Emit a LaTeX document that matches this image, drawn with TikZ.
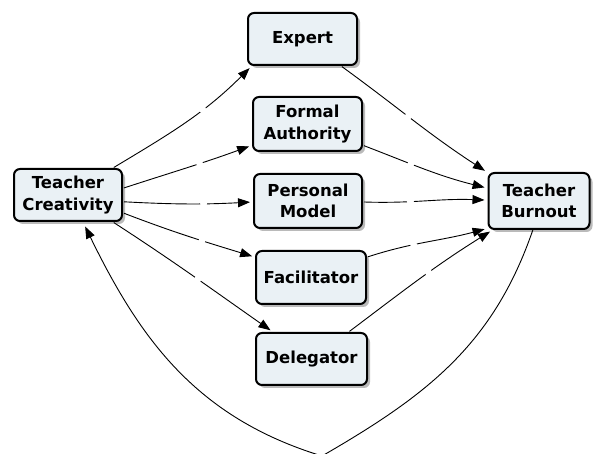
\documentclass[tikz,border=0pt]{standalone}
\usepackage{fontspec}
\setmainfont{DejaVu Sans}
\usetikzlibrary{arrows.meta,shadows}
\definecolor{boxfill}{RGB}{234,241,245}
\begin{document}
\begin{tikzpicture}[x=1pt,y=1pt,
  role/.style={draw=black, line width=2pt, rounded corners=6pt, fill=boxfill,
    align=center, font=\fontsize{16.5}{21.5}\selectfont\bfseries, inner sep=0pt,
    drop shadow={shadow xshift=3pt, shadow yshift=-3pt, fill=black!45, opacity=0.6}},
  link/.style={line width=0.9pt, shorten <=1pt, shorten >=3pt,
    -{Triangle[length=12pt,width=9pt]}},
  gap/.style={circle, fill=white, inner sep=0pt, minimum size=7pt},
]
\useasboundingbox (0,0) rectangle (595,453);

% role boxes
\node[role, minimum width=108pt, minimum height=52pt] (cre) at (68,258) {Teacher\\Creativity};
\node[role, minimum width=109pt, minimum height=52pt] (exp) at (302.5,414) {Expert};
\node[role, minimum width=109pt, minimum height=54pt] (fa)  at (307.5,329) {Formal\\Authority};
\node[role, minimum width=108pt, minimum height=54pt] (pm)  at (308,252) {Personal\\Model};
\node[role, minimum width=110pt, minimum height=53pt] (fac) at (311,175.5) {Facilitator};
\node[role, minimum width=111pt, minimum height=52pt] (del) at (311.5,94) {Delegator};
\node[role, minimum width=101pt, minimum height=56pt] (bur) at (539,252) {Teacher\\Burnout};

% creativity to the teaching styles
\draw[link] (cre.31)    to[out=31,in=225]  node[gap,pos=0.63]{} (exp.208);
\draw[link] (cre.7.7)   to[out=18,in=200]  node[gap,pos=0.6]{}  (fa.201);
\draw[link] (cre.-7)    to[out=-3,in=183]  node[gap,pos=0.63]{} (pm.181);
\draw[link] (cre.-18.7) to[out=-21,in=163] node[gap,pos=0.61]{} (fac.160.8);
\draw[link] (cre.-31.4) to[out=-33,in=145] node[gap,pos=0.53]{} (del.145);

% teaching styles to burnout
\draw[link] (exp.-35.6) to[out=-36,in=147] node[gap,pos=0.46]{} (bur.151.8);
\draw[link] (fa.-21.8)  to[out=-21,in=166] node[gap,pos=0.38]{} (bur.166.5);
\draw[link] (pm.-1)     to[out=-2,in=178]  node[gap,pos=0.37]{} (bur.179);
\draw[link] (fac.20)    to[out=18,in=195]  node[gap,pos=0.38]{} (bur.208);
\draw[link] (del.36.5)  to[out=37,in=212]  node[gap,pos=0.57]{} (bur.212.7);

% feedback from burnout back to creativity
\coordinate (dip) at (322,-3);
\draw[line width=0.9pt, shorten >=5pt, -{Triangle[length=12pt,width=9pt]}]
  (bur.258) to[out=251,in=30] (dip) to[out=163,in=296] (cre.-61.5);
\end{tikzpicture}
\end{document}
